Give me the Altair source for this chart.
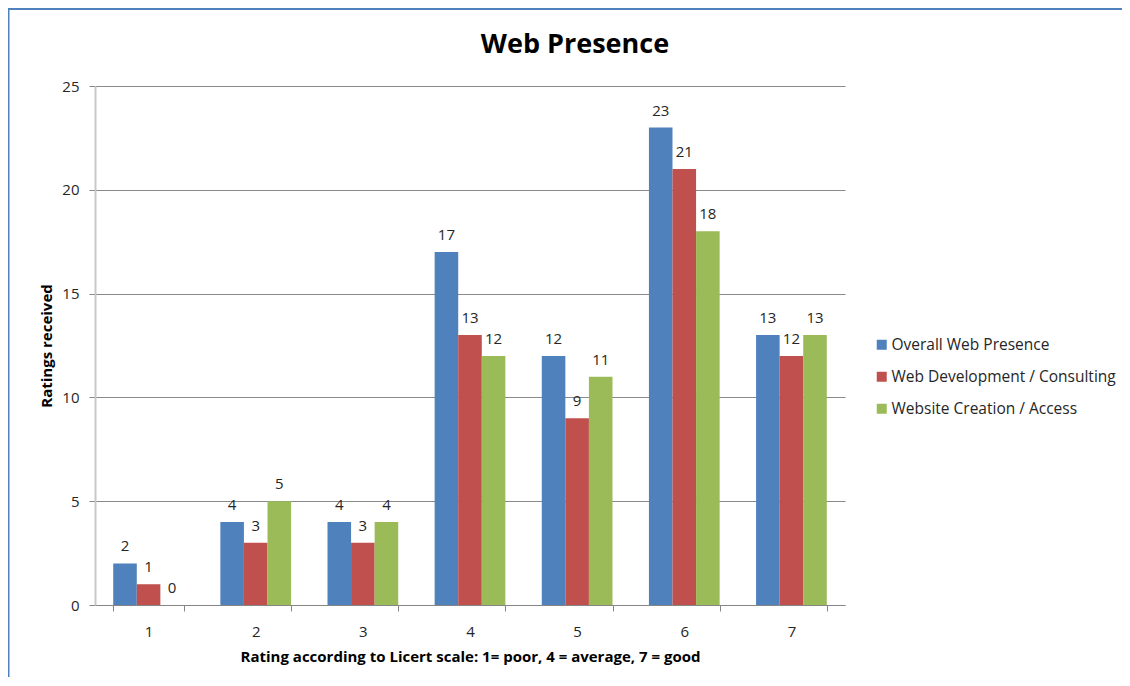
import altair as alt
import pandas as pd

ratings = ["1", "2", "3", "4", "5", "6", "7"]
series_names = ["Overall Web Presence", "Web Development / Consulting", "Website Creation / Access"]
overall = [2, 4, 4, 17, 12, 23, 13]
webdev = [1, 3, 3, 13, 9, 21, 12]
website = [0, 5, 4, 12, 11, 18, 13]
colors = ["#4F81BD", "#C0504D", "#9BBB59"]
chart_title = "Web Presence"

rows = []
for name, vals in zip(series_names, [overall, webdev, website]):
    for r, v in zip(ratings, vals):
        rows.append({"rating": r, "series": name, "value": v})
df = pd.DataFrame(rows)

FONT = "Open Sans"
yscale = alt.Scale(domain=[0, 25], nice=False)

base = alt.Chart(df).encode(
    x=alt.X("rating:N", sort=ratings,
            scale=alt.Scale(paddingInner=0.34, paddingOuter=0.17),
            axis=alt.Axis(title="Rating according to Licert scale: 1= poor, 4 = average, 7 = good",
                          labelAngle=0, tickBand="extent", tickSize=6, tickColor="#868686",
                          domainColor="#868686", labelFontSize=15, labelPadding=13,
                          labelColor="#262626", titleFontSize=15, titleFontWeight="bold",
                          titlePadding=10, titleColor="#000000", labelFont=FONT, titleFont=FONT)),
    xOffset=alt.XOffset("series:N", sort=series_names),
)

bars = base.mark_bar().encode(
    y=alt.Y("value:Q", scale=yscale,
            axis=alt.Axis(title="Ratings received", values=[0, 5, 10, 15, 20, 25],
                          tickSize=6, tickColor="#868686", domainColor="#c8c8c8", domainWidth=2,
                          gridColor="#8a8a8a", labelFontSize=15, labelPadding=10,
                          labelColor="#262626", titleFontSize=15, titleFontWeight="bold",
                          titlePadding=7, titleColor="#000000", labelFont=FONT, titleFont=FONT)),
    color=alt.Color("series:N", sort=series_names,
                    scale=alt.Scale(domain=series_names, range=colors),
                    legend=alt.Legend(title=None, orient="none", legendX=779, legendY=251,
                                      symbolType="square", symbolSize=100, symbolStrokeWidth=0,
                                      labelFontSize=15.5, labelFont=FONT, labelColor="#262626",
                                      labelLimit=400, rowPadding=15, labelOffset=2)),
)

labels = base.mark_text(baseline="alphabetic", dy=-12, fontSize=15, font=FONT, color="#262626").encode(
    y=alt.Y("value:Q", scale=yscale),
    text=alt.Text("value:Q"),
)

frame_data = alt.Data(values=[{"t": chart_title}])
top_line = alt.Chart(frame_data).mark_rule(color="#4F81BD", strokeWidth=2).encode(
    x=alt.value(-87), x2=alt.value(1030), y=alt.value(-77))
left_line = alt.Chart(frame_data).mark_rule(color="#4F81BD", strokeWidth=2).encode(
    x=alt.value(-86.5), y=alt.value(-78), y2=alt.value(591))
title_text = alt.Chart(frame_data).mark_text(
    font=FONT, fontSize=27, fontWeight="bold", color="#000000", baseline="middle", align="center"
).encode(text="t:N", x=alt.value(480), y=alt.value(-41))

chart = alt.layer(bars, labels, top_line, left_line, title_text).properties(
    width=750, height=519,
    autosize=alt.AutoSizeParams(type="none"),
    padding={"left": 87, "top": 78, "right": 277, "bottom": 72},
).configure_view(stroke=None).configure_axisX(grid=False)

chart.save("out.html", embed_options={"renderer": "svg", "actions": False})
